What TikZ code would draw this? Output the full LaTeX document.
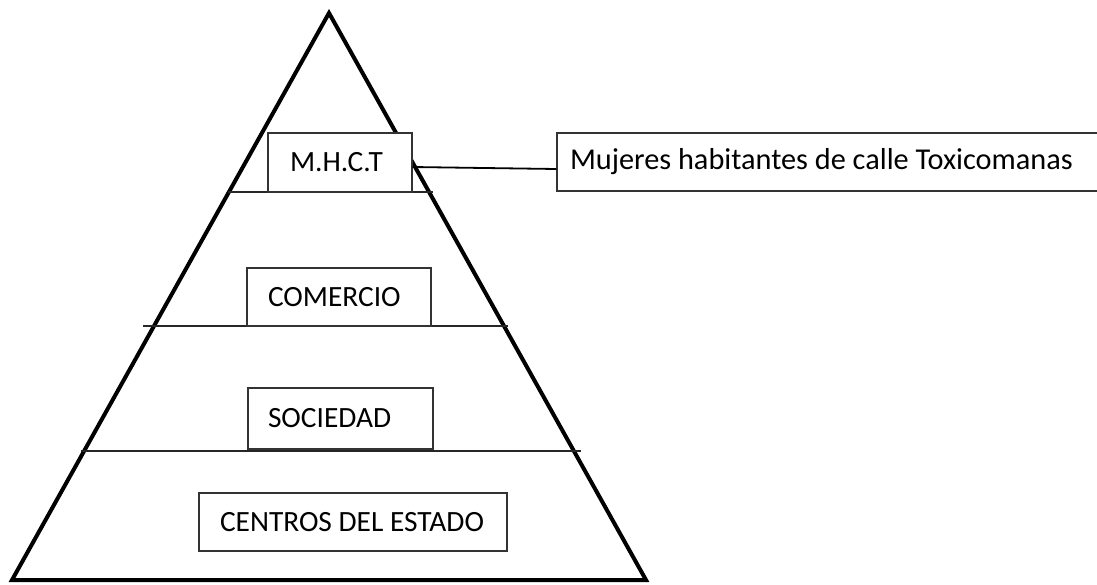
\documentclass[tikz,border=0pt]{standalone}
\usepackage{fontspec}
\setmainfont{Carlito}
\begin{document}
\begin{tikzpicture}[x=1pt,y=-1pt,
  tri/.style={line width=4pt, line join=miter},
  hline/.style={line width=1.8pt, black!85},
  box/.style={draw=black!80, fill=white, line width=1.2pt, inner ysep=0pt,
    font=\fontsize{29.4}{32}\selectfont},
  conn/.style={line width=1.8pt}]
\useasboundingbox (0,0) rectangle (1097,584);
\clip (0,0) rectangle (1097,584);
\coordinate (apex) at (329,13);
\coordinate (bl) at (12,580);
\coordinate (br) at (646,580);
\draw[tri] (bl) -- (apex) -- (br) -- cycle;
\draw[hline] (228,192) -- (433,192);
\draw[hline] (143,326) -- (508,326);
\draw[hline] (81,451) -- (581,451);
\node[box, inner xsep=22pt, minimum height=59pt] (mhct) at (340,162.5) {\makebox[100pt][l]{M.H.C.T}};
\node[box, inner xsep=21pt, minimum height=58pt] (com) at (339,297) {\makebox[142pt][l]{COMERCIO}};
\node[box, inner xsep=20pt, minimum height=61pt] (soc) at (340.5,418.5) {\makebox[145pt][l]{SOCIEDAD}};
\node[box, inner xsep=21pt, minimum height=58pt] (cen) at (353,522) {\makebox[266pt][l]{CENTROS DEL ESTADO}};
\node[box, inner xsep=13pt, minimum height=58pt, font=\fontsize{30.3}{33}\selectfont] (muj) at (833.5,162) {\makebox[527pt][l]{Mujeres habitantes de calle Toxicomanas}};
\draw[conn] ([yshift=-4.5pt]mhct.east) -- ([yshift=-7pt]muj.west);
\end{tikzpicture}
\end{document}
